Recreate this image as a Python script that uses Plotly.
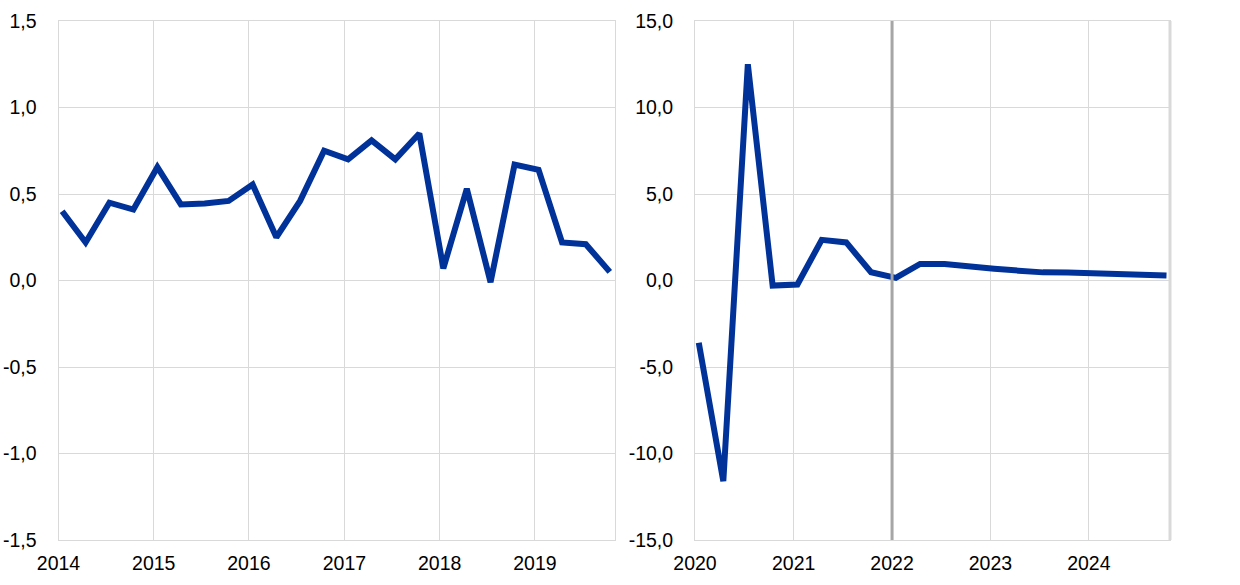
import plotly.graph_objects as go

# ---- data ----
left_dates = [f"{y}-{m:02d}-15" for y in range(2014, 2020) for m in (1, 4, 7, 10)]
left_values = [0.40, 0.22, 0.45, 0.41, 0.655, 0.44, 0.445, 0.46, 0.555, 0.25,
               0.46, 0.75, 0.70, 0.81, 0.70, 0.85, 0.07, 0.53, -0.01, 0.67,
               0.64, 0.22, 0.21, 0.05]

right_dates = [f"{y}-{m:02d}-15" for y in range(2020, 2025) for m in (1, 4, 7, 10)]
right_values = [-3.6, -11.6, 12.5, -0.29, -0.23, 2.35, 2.2, 0.48,
                0.15, 0.96, 0.96, 0.78, 0.68, 0.57, 0.47, 0.46,
                0.40, 0.36, 0.31, 0.29]

left_ticks = ["2014", "2015", "2016", "2017", "2018", "2019"]
right_ticks = ["2020", "2021", "2022", "2023", "2024"]
left_yticks = [-1.5, -1.0, -0.5, 0.0, 0.5, 1.0, 1.5]
left_ylabels = ["-1,5", "-1,0", "-0,5", "0,0", "0,5", "1,0", "1,5"]
right_yticks = [-15, -10, -5, 0, 5, 10, 15]
right_ylabels = ["-15,0", "-10,0", "-5,0", "0,0", "5,0", "10,0", "15,0"]
forecast_start = "2022-01-01"

BLUE = "#003299"
GRID = "#d9d9d9"
FONT = dict(family="Liberation Sans, Arial, sans-serif", size=19.5, color="#000000")

fig = go.Figure()
fig.add_trace(go.Scatter(x=left_dates, y=left_values, mode="lines",
                         line=dict(color=BLUE, width=6), xaxis="x", yaxis="y",
                         showlegend=False))
fig.add_trace(go.Scatter(x=right_dates, y=right_values, mode="lines",
                         line=dict(color=BLUE, width=6), xaxis="x2", yaxis="y2",
                         showlegend=False))

W, H = 1240, 585
ydom = [1 - 540 / H, 1 - 21 / H]

common_x = dict(type="date", showgrid=True, gridcolor=GRID, gridwidth=1,
                ticks="", tickfont=FONT, automargin=False,
                showline=True, linecolor=GRID, linewidth=1, mirror=True,
                zeroline=False, ticklabelstandoff=6)
common_y = dict(showgrid=True, gridcolor=GRID, gridwidth=1, ticks="",
                tickfont=FONT, zeroline=False, automargin=False,
                showline=True, linecolor=GRID, linewidth=1, mirror=True,
                ticklabelstandoff=17)

fig.update_layout(
    template="none",
    width=W, height=H,
    margin=dict(l=0, r=0, t=0, b=0),
    paper_bgcolor="white", plot_bgcolor="white",
    xaxis=dict(common_x, domain=[58.5 / W, 615 / W],
               range=["2014-01-01", "2019-11-04"], anchor="y",
               tickvals=[f"{t}-01-01" for t in left_ticks], ticktext=left_ticks),
    yaxis=dict(common_y, domain=ydom, range=[-1.5, 1.5], anchor="x",
               tickvals=left_yticks, ticktext=left_ylabels),
    xaxis2=dict(common_x, domain=[695 / W, 1170 / W],
                range=["2020-01-01", "2024-10-28"], anchor="y2",
                tickvals=[f"{t}-01-01" for t in right_ticks], ticktext=right_ticks),
    yaxis2=dict(common_y, domain=ydom, range=[-15, 15], anchor="x2",
                tickvals=right_yticks, ticktext=right_ylabels),
    shapes=[
        dict(type="line", xref="x2", yref="y2 domain", x0=forecast_start,
             x1=forecast_start, y0=0, y1=1, line=dict(color="#a6a6a6", width=3),
             layer="above"),
        dict(type="line", xref="x2 domain", yref="y2 domain", x0=1, x1=1,
             y0=0, y1=1, line=dict(color=GRID, width=3), layer="below"),
    ],
)

fig.write_html("out.html", config={"displayModeBar": False},
               post_script="document.body.style.margin='0';")
